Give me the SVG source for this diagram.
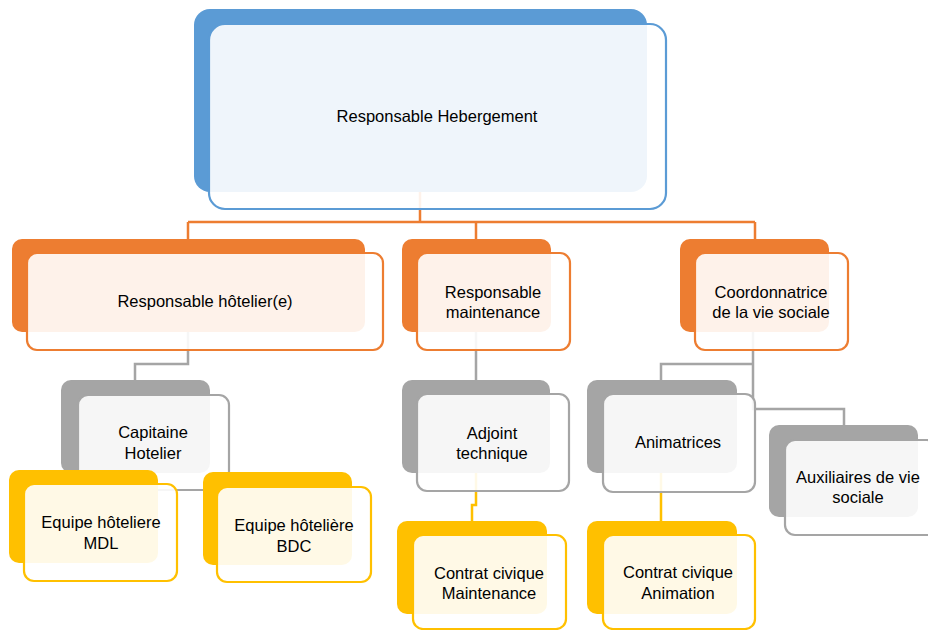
<svg xmlns="http://www.w3.org/2000/svg" width="928" height="630" viewBox="0 0 928 630">
<style>
.bk{stroke:none}
.fr{fill:#ffffff;fill-opacity:0.9;stroke-width:2.2}
.blue .bk{fill:#5B9BD5}.blue .fr{stroke:#5B9BD5}
.org .bk{fill:#ED7D31}.org .fr{stroke:#ED7D31}
.gry .bk{fill:#A5A5A5}.gry .fr{stroke:#A5A5A5}
.yel .bk{fill:#FFC000}.yel .fr{stroke:#FFC000}
text{font-family:"Liberation Sans",Arial,sans-serif;font-size:16.5px;fill:#000;text-anchor:middle;dominant-baseline:central}
.c{fill:none;stroke-width:2.5}
</style>
<rect width="928" height="630" fill="#ffffff"/>
<g id="connectors">
<path class="c" stroke="#ED7D31" d="M420,192 V222 M188,222 H755 M188,222 V239 M476,222 V239 M755,222 V239"/>
<path class="c" stroke="#A5A5A5" d="M188,332 V364 H135 V380 M476,332 V380 M753,332 V409 H844 V425 M753,364 H661 V380"/>
<path class="c" stroke="#FFC000" d="M476,473 V505 H472 V521 M661,473 V521"/>
</g>
<g id="n-hebergement" class="blue">
<rect class="bk" x="194" y="9" width="453" height="183" rx="16"/>
<rect class="fr" x="209" y="24" width="457" height="185" rx="16"/>
<text x="437" y="116">Responsable Hebergement</text>
</g>
<g id="n-hotelier" class="org">
<rect class="bk" x="12" y="239" width="353" height="93" rx="10"/>
<rect class="fr" x="27" y="253" width="356" height="97" rx="10"/>
<text x="205" y="301">Responsable hôtelier(e)</text>
</g>
<g id="n-maintenance" class="org">
<rect class="bk" x="402" y="239" width="149" height="93" rx="10"/>
<rect class="fr" x="417" y="253" width="153" height="97" rx="10"/>
<text x="493" y="292">Responsable</text>
<text x="493" y="312">maintenance</text>
</g>
<g id="n-coordonnatrice" class="org">
<rect class="bk" x="680" y="239" width="149" height="93" rx="10"/>
<rect class="fr" x="695" y="253" width="153" height="97" rx="10"/>
<text x="771" y="292">Coordonnatrice</text>
<text x="771" y="312">de la vie sociale</text>
</g>
<g id="n-capitaine" class="gry">
<rect class="bk" x="61" y="380" width="149" height="93" rx="10"/>
<rect class="fr" x="78" y="395" width="151" height="95" rx="10"/>
<text x="153" y="432">Capitaine</text>
<text x="153" y="453">Hotelier</text>
</g>
<g id="n-adjoint" class="gry">
<rect class="bk" x="402" y="380" width="148" height="93" rx="10"/>
<rect class="fr" x="417" y="394" width="152" height="97" rx="10"/>
<text x="492" y="433">Adjoint</text>
<text x="492" y="453">technique</text>
</g>
<g id="n-animatrices" class="gry">
<rect class="bk" x="587" y="380" width="150" height="93" rx="10"/>
<rect class="fr" x="603" y="394" width="152" height="98" rx="10"/>
<text x="678" y="442">Animatrices</text>
</g>
<g id="n-auxiliaires" class="gry">
<rect class="bk" x="769" y="425" width="149" height="92" rx="10"/>
<rect class="fr" x="785" y="440" width="152" height="95" rx="10"/>
<text x="858" y="477">Auxiliaires de vie</text>
<text x="858" y="497">sociale</text>
</g>
<g id="n-mdl" class="yel">
<rect class="bk" x="9" y="470" width="149" height="93" rx="10"/>
<rect class="fr" x="24" y="484" width="153" height="97" rx="10"/>
<text x="101" y="522">Equipe hôteliere</text>
<text x="101" y="543">MDL</text>
</g>
<g id="n-bdc" class="yel">
<rect class="bk" x="203" y="472" width="149" height="93" rx="10"/>
<rect class="fr" x="217" y="487" width="154" height="95" rx="10"/>
<text x="294" y="525">Equipe hôtelière</text>
<text x="294" y="546">BDC</text>
</g>
<g id="n-contrat-maintenance" class="yel">
<rect class="bk" x="397" y="521" width="150" height="93" rx="10"/>
<rect class="fr" x="413" y="535" width="153" height="94" rx="10"/>
<text x="489" y="573">Contrat civique</text>
<text x="489" y="593">Maintenance</text>
</g>
<g id="n-contrat-animation" class="yel">
<rect class="bk" x="587" y="521" width="150" height="93" rx="10"/>
<rect class="fr" x="603" y="535" width="152" height="94" rx="10"/>
<text x="678" y="572">Contrat civique</text>
<text x="678" y="593">Animation</text>
</g>
</svg>
